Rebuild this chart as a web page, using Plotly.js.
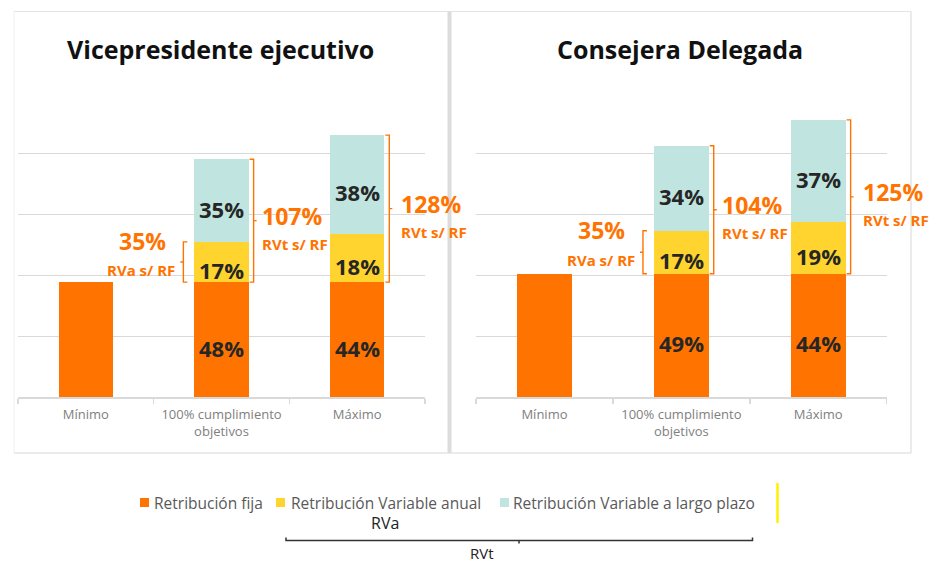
<!DOCTYPE html>
<html>
<head>
<meta charset="utf-8">
<script src="https://cdn.plot.ly/plotly-3.0.1.min.js"></script>
<style>
  html, body { margin: 0; padding: 0; background: #fff; }
  #chart { width: 932px; height: 566px; }
</style>
</head>
<body>
<div id="chart"></div>
<script>
// categories of each panel
var categories = ['Mínimo', '100% cumplimiento<br>objetivos', 'Máximo'];

// amounts as % of fixed pay (RF = 100)
var vpFija  = [100, 100, 100];
var vpAnual = [0, 35, 42];
var vpLargo = [0, 72, 86];

var cdFija  = [100, 100, 100];
var cdAnual = [0, 35, 42];
var cdLargo = [0, 69, 83];

var seriesNames = ['Retribución fija', 'Retribución Variable anual', 'Retribución Variable a largo plazo'];
var seriesColors = ['#ff7300', '#ffd42f', '#c0e4df'];
var panelTitles = ['Vicepresidente ejecutivo', 'Consejera Delegada'];

var W = 932, H = 566;
function px(x) { return x / W; }
function py(y) { return 1 - y / H; }

var ORANGE = '#ff7300';
var FONT = 'Open Sans, sans-serif';

var panels = [
  { fija: vpFija, anual: vpAnual, largo: vpLargo, xa: 'x', ya: 'y' },
  { fija: cdFija, anual: cdAnual, largo: cdLargo, xa: 'x2', ya: 'y2' }
];

var data = [];
var annotations = [];
var shapes = [];

panels.forEach(function (p, k) {
  var parts = [p.fija, p.anual, p.largo];
  parts.forEach(function (vals, s) {
    data.push({
      type: 'bar',
      x: categories,
      y: vals,
      name: seriesNames[s],
      xaxis: p.xa,
      yaxis: p.ya,
      width: 0.4,
      marker: { color: seriesColors[s], line: { width: 0 } },
      showlegend: false,
      hoverinfo: 'skip'
    });
  });

  categories.forEach(function (c, i) {
    var f = p.fija[i], a = p.anual[i], l = p.largo[i];
    var total = f + a + l;
    if (a > 0) {
      // share labels inside each segment
      [[0, f], [f, a], [f + a, l]].forEach(function (seg) {
        annotations.push({
          xref: p.xa, yref: p.ya, x: i, y: seg[0] + seg[1] / 2,
          text: Math.round(seg[1] / total * 100) + '%',
          showarrow: false, yshift: -8,
          font: { family: FONT, size: 22, color: '#262626', weight: 700 }
        });
      });
      // RVt bracket on the right of the bar
      var y0 = f, y1 = f + a + l, ym = (y0 + y1) / 2;
      var gap = i === 2 ? 15 : 11;
      shapes.push({
        type: 'path', xref: p.xa, yref: p.ya, xsizemode: 'pixel', xanchor: i + 0.2,
        path: 'M1,' + y1 + ' L5,' + y1 + ' L5,' + y0 + ' L1,' + y0 + ' M5,' + ym + ' L8,' + ym,
        line: { color: ORANGE, width: 1.4 }
      });
      annotations.push({
        xref: p.xa, yref: p.ya, x: i + 0.2, y: ym, xanchor: 'left', xshift: gap, yshift: 5,
        text: Math.round((a + l) / f * 100) + '%', showarrow: false,
        font: { family: FONT, size: 23, color: ORANGE, weight: 700 }
      });
      annotations.push({
        xref: p.xa, yref: p.ya, x: i + 0.2, y: ym, xanchor: 'left', xshift: gap, yshift: -23,
        text: 'RVt s/ RF', showarrow: false,
        font: { family: FONT, size: 15, color: ORANGE, weight: 700 }
      });
    }
    if (a > 0 && i === 1) {
      // RVa bracket on the left of the target bar
      var b0 = f, b1 = f + a, bm = (b0 + b1) / 2;
      shapes.push({
        type: 'path', xref: p.xa, yref: p.ya, xsizemode: 'pixel', xanchor: i - 0.2,
        path: 'M-7,' + b1 + ' L-11,' + b1 + ' L-11,' + b0 + ' L-7,' + b0 + ' M-11,' + bm + ' L-14,' + bm,
        line: { color: ORANGE, width: 1.4 }
      });
      annotations.push({
        xref: p.xa, yref: p.ya, x: i - 0.2, y: b1, xanchor: 'center', xshift: -52, yshift: 1,
        text: Math.round(a / f * 100) + '%', showarrow: false,
        font: { family: FONT, size: 23, color: ORANGE, weight: 700 }
      });
      annotations.push({
        xref: p.xa, yref: p.ya, x: i - 0.2, y: bm, xanchor: 'right', xshift: -17, yshift: -8,
        text: 'RVa s/ RF', showarrow: false,
        font: { family: FONT, size: 15, color: ORANGE, weight: 700 }
      });
    }
  });
});

// panel titles
[[220, 49], [680, 49]].forEach(function (pos, k) {
  annotations.push({
    xref: 'paper', yref: 'paper', x: px(pos[0]), y: py(pos[1]),
    xanchor: 'center', yanchor: 'middle', showarrow: false,
    text: panelTitles[k],
    font: { family: FONT, size: 25, color: '#111', weight: 700 }
  });
});

// custom legend
var legendPos = [[140, 152], [276, 289], [500, 511]];
seriesNames.forEach(function (n, s) {
  shapes.push({
    type: 'rect', xref: 'paper', yref: 'paper',
    x0: px(legendPos[s][0]), x1: px(legendPos[s][0] + 9), y0: py(498), y1: py(507),
    fillcolor: seriesColors[s], line: { width: 0 }
  });
  annotations.push({
    xref: 'paper', yref: 'paper', x: px(legendPos[s][1]), y: py(502.5),
    xanchor: 'left', yanchor: 'middle', showarrow: false, text: n,
    font: { family: FONT, size: 15.5, color: '#595959' }
  });
});

// bottom RVa / RVt notes
annotations.push({
  xref: 'paper', yref: 'paper', x: px(385), y: py(523), xanchor: 'center', yanchor: 'middle',
  showarrow: false, text: 'RVa', font: { family: FONT, size: 16, color: '#222' }
});
annotations.push({
  xref: 'paper', yref: 'paper', x: px(482), y: py(553), xanchor: 'center', yanchor: 'middle',
  showarrow: false, text: 'RVt', font: { family: FONT, size: 15, color: '#222' }
});
shapes.push({
  type: 'path', xref: 'paper', yref: 'paper',
  path: 'M' + px(286) + ',' + py(537.5) + ' L' + px(286) + ',' + py(540.5) +
        ' L' + px(752.5) + ',' + py(540.5) + ' L' + px(752.5) + ',' + py(537.5) +
        ' M' + px(519) + ',' + py(540.5) + ' L' + px(519) + ',' + py(543.5),
  line: { color: '#333', width: 1.5 }
});
shapes.push({
  type: 'line', xref: 'paper', yref: 'paper',
  x0: px(777.5), x1: px(777.5), y0: py(483), y1: py(523),
  line: { color: '#fff000', width: 2.5 }
});

// panel borders
shapes.push({ type: 'line', xref: 'paper', yref: 'paper', x0: px(14), x1: px(911), y0: py(11.5), y1: py(11.5), line: { color: '#e4e4e4', width: 1 } });
shapes.push({ type: 'line', xref: 'paper', yref: 'paper', x0: px(14), x1: px(911), y0: py(453), y1: py(453), line: { color: '#e4e4e4', width: 1.5 } });
shapes.push({ type: 'line', xref: 'paper', yref: 'paper', x0: px(449.5), x1: px(449.5), y0: py(11.5), y1: py(453), line: { color: '#dcdcdc', width: 4 } });
shapes.push({ type: 'line', xref: 'paper', yref: 'paper', x0: px(911), x1: px(911), y0: py(11.5), y1: py(453), line: { color: '#e4e4e4', width: 1.5 } });
shapes.push({ type: 'line', xref: 'paper', yref: 'paper', x0: px(14), x1: px(14), y0: py(11.5), y1: py(453), line: { color: '#f0f0f0', width: 1 } });

function xAxis(domain, anchor) {
  return {
    domain: domain, anchor: anchor, type: 'category', range: [-0.5, 2.5], autorange: false,
    showline: true, linecolor: '#d9d9d9', linewidth: 1.5,
    ticks: 'outside', tickson: 'boundaries', ticklen: 5, tickcolor: '#d9d9d9', tickwidth: 1.5,
    showgrid: false, zeroline: false, ticklabelstandoff: 5, tickangle: 0,
    tickfont: { family: FONT, size: 13, color: '#808080' }, fixedrange: true
  };
}
function yAxis(domain, top, step, anchor) {
  return {
    domain: domain, range: [0, top], autorange: false, dtick: step, tick0: 0, showticklabels: false,
    showgrid: true, gridcolor: '#d9d9d9', gridwidth: 1, zeroline: false, anchor: anchor,
    fixedrange: true
  };
}

var yDom = [py(397), py(92)];
var layout = {
  width: W, height: H, autosize: false,
  margin: { l: 0, r: 0, t: 0, b: 0, pad: 0 },
  paper_bgcolor: '#fff', plot_bgcolor: 'rgba(0,0,0,0)',
  barmode: 'stack', showlegend: false,
  xaxis: xAxis([px(18), px(425)], 'y'),
  yaxis: yAxis(yDom, 265.5, 53, 'x'),
  xaxis2: xAxis([px(476), px(886.7)], 'y2'),
  yaxis2: yAxis(yDom, 247.6, 49.44, 'x2'),
  annotations: annotations,
  shapes: shapes
};

Plotly.newPlot('chart', data, layout, { displayModeBar: false, staticPlot: true });
</script>
</body>
</html>
